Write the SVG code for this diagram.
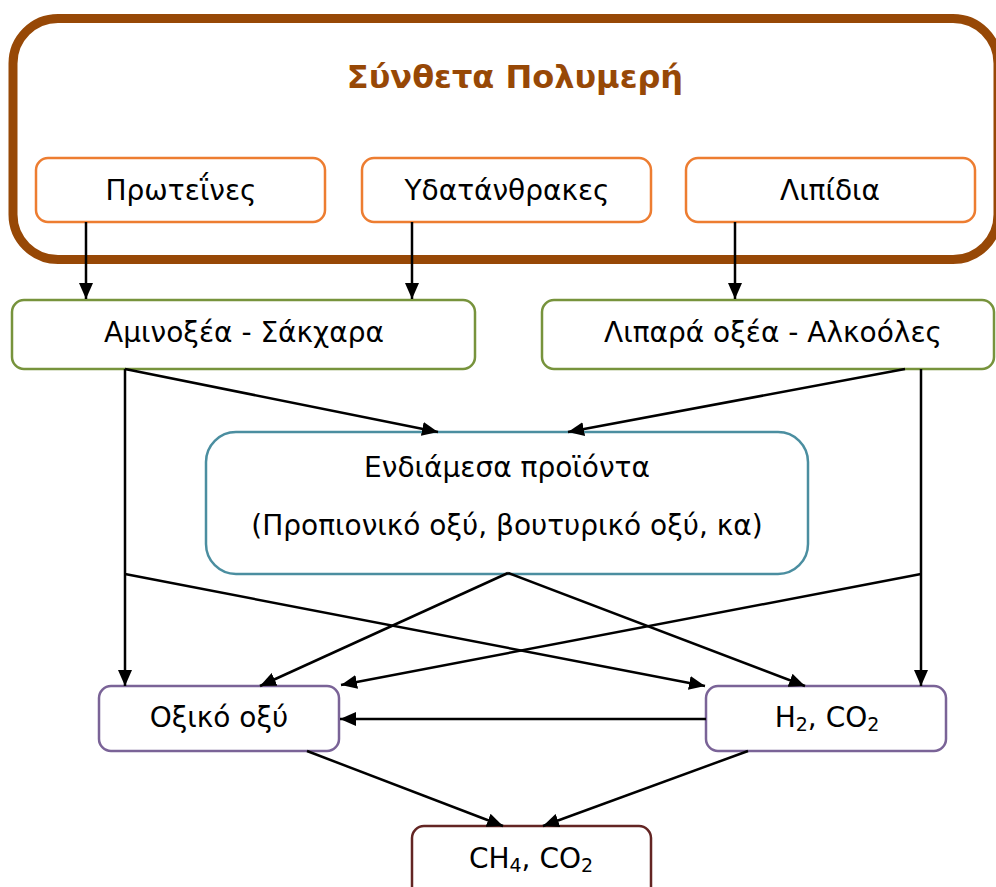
<svg xmlns="http://www.w3.org/2000/svg" width="996" height="887" viewBox="0 0 996 887">
<defs>
<marker id="ah" viewBox="0 0 16 14" refX="16" refY="7" markerWidth="16" markerHeight="14" markerUnits="userSpaceOnUse" orient="auto">
<path d="M0,0 L16,7 L0,14 Z" fill="#000"/>
</marker>
<style>
text{font-family:"DejaVu Sans","Liberation Sans",sans-serif;font-size:28px;fill:#000;text-anchor:middle}
.title{font-weight:bold;font-size:32px;fill:#974806}
.box{fill:#fff;stroke-width:2.5}
.or{stroke:#ED7D31}
.gr{stroke:#77933C}
.tl{stroke:#4B8EA0}
.pu{stroke:#7A6397}
.dr{stroke:#632523}
.c line{stroke:#000;stroke-width:2.5;fill:none}
.arr{marker-end:url(#ah)}
.sub{font-size:19px}
</style>
</defs>
<rect width="996" height="887" fill="#fff"/>
<g id="polymers">
<rect x="13" y="18.5" width="985" height="241" rx="45" fill="none" stroke="#974806" stroke-width="9"/>
<text class="title" x="515" y="88">Σύνθετα Πολυμερή</text>
</g>
<g id="proteins"><rect class="box or" x="36" y="158" width="289" height="64" rx="12"/><text x="181" y="200">Πρωτεΐνες</text></g>
<g id="carbs"><rect class="box or" x="362" y="158" width="289" height="64" rx="12"/><text x="507" y="200">Υδατάνθρακες</text></g>
<g id="lipids"><rect class="box or" x="686" y="158" width="289" height="64" rx="12"/><text x="830" y="200">Λιπίδια</text></g>
<g id="amino"><rect class="box gr" x="12" y="300" width="463" height="69" rx="12"/><text x="244" y="342">Αμινοξέα - Σάκχαρα</text></g>
<g id="fatty"><rect class="box gr" x="542" y="300" width="452" height="69" rx="12"/><text x="773" y="342">Λιπαρά οξέα - Αλκοόλες</text></g>
<g id="intermediate"><rect class="box tl" x="206" y="432" width="602" height="142" rx="30"/><text x="507" y="477">Ενδιάμεσα προϊόντα</text><text x="507" y="535">(Προπιονικό οξύ, βουτυρικό οξύ, κα)</text></g>
<g id="acetic"><rect class="box pu" x="99" y="686" width="240" height="65" rx="12"/><text x="219" y="727">Οξικό οξύ</text></g>
<g id="h2co2"><rect class="box pu" x="706" y="686" width="240" height="65" rx="12"/><text x="827" y="727">H<tspan class="sub" dy="4">2</tspan><tspan dy="-4">, CO</tspan><tspan class="sub" dy="4">2</tspan></text></g>
<g id="ch4co2"><rect class="box dr" x="412" y="826" width="239" height="80" rx="12"/><text x="531" y="868">CH<tspan class="sub" dy="4">4</tspan><tspan dy="-4">, CO</tspan><tspan class="sub" dy="4">2</tspan></text></g>
<g id="connectors" class="c">
<line class="arr" x1="86" y1="222" x2="86" y2="299"/>
<line class="arr" x1="412" y1="222" x2="412" y2="299"/>
<line class="arr" x1="735" y1="222" x2="735" y2="299"/>
<line class="arr" x1="125" y1="369" x2="438" y2="432"/>
<line class="arr" x1="905" y1="369" x2="568" y2="432"/>
<line class="arr" x1="125" y1="369" x2="125" y2="686"/>
<line class="arr" x1="921" y1="369" x2="921" y2="686"/>
<line class="arr" x1="125" y1="574" x2="705" y2="686"/>
<line class="arr" x1="921" y1="574" x2="341" y2="685"/>
<line class="arr" x1="508" y1="573" x2="260" y2="686"/>
<line class="arr" x1="508" y1="573" x2="805" y2="686"/>
<line class="arr" x1="706" y1="719" x2="340" y2="719"/>
<line class="arr" x1="307" y1="751" x2="503" y2="826"/>
<line class="arr" x1="748" y1="751" x2="543" y2="826"/>
</g>
</svg>
